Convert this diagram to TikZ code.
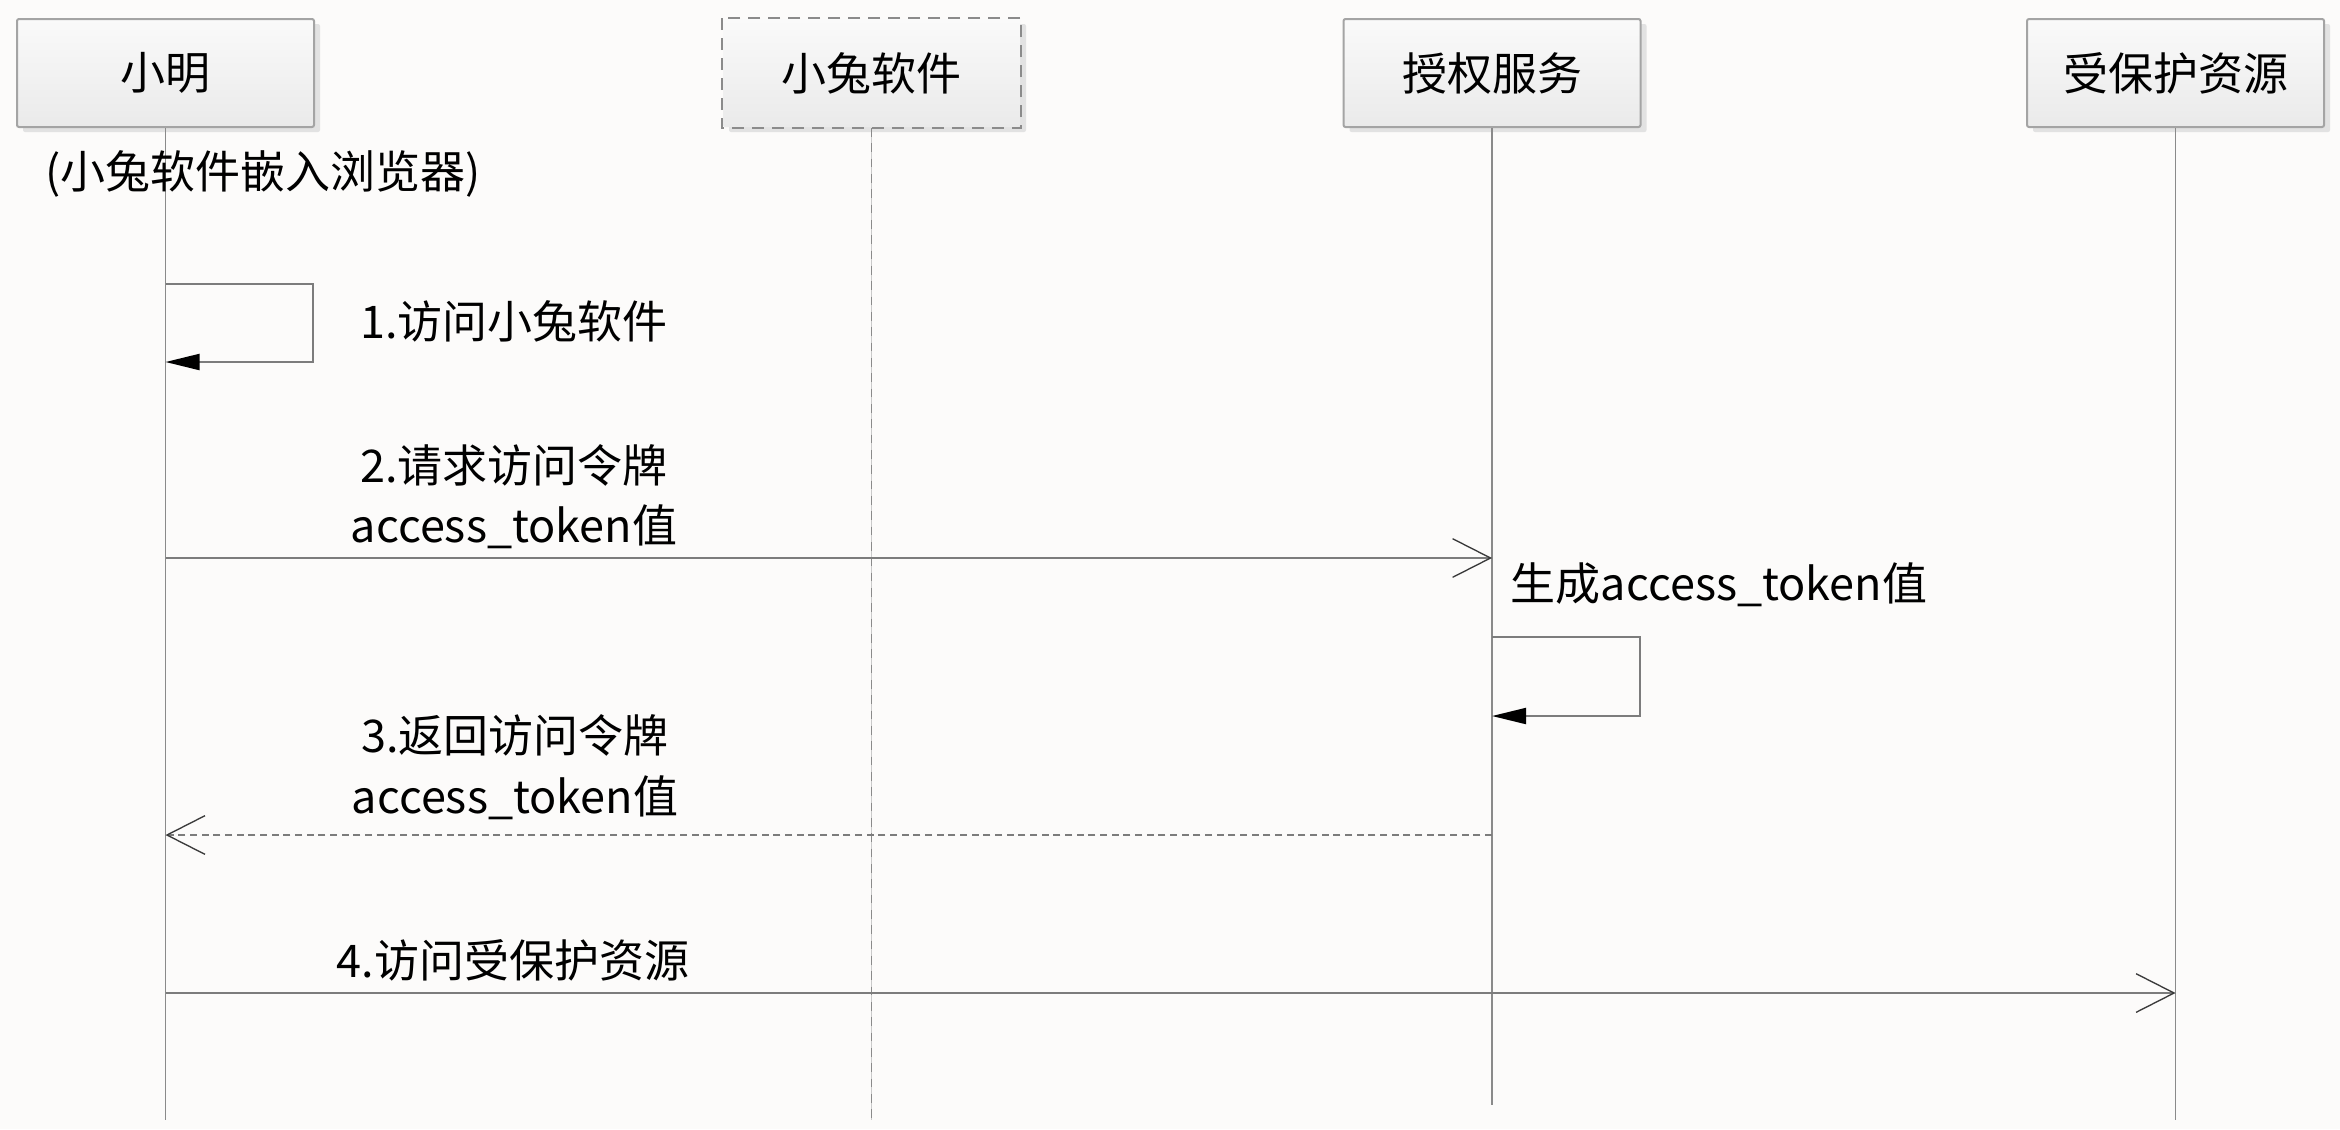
\documentclass[tikz,border=0pt]{standalone}
\usepackage{fontspec}
\setmainfont{Noto Sans CJK SC}
\usetikzlibrary{arrows.meta,shadows}
\definecolor{bg}{HTML}{FCFBFA}
\definecolor{boxline}{HTML}{A4A4A4}
\definecolor{boxtop}{HTML}{FAFAFA}
\definecolor{boxbot}{HTML}{EAEAEA}
\definecolor{shadowc}{HTML}{E2E2E2}
\definecolor{lifec}{HTML}{8A8A8A}
\definecolor{msgc}{HTML}{7C7C7C}
\definecolor{headc}{HTML}{3A3A3A}
\begin{document}
\begin{tikzpicture}[x=0.3pt,y=-0.3pt,
  actor/.style={draw=boxline, line width=0.6pt, rounded corners=0.6pt,
    top color=boxtop, bottom color=boxbot,
    minimum width=89.1pt, minimum height=32.4pt, inner sep=0pt,
    font=\fontsize{13.5pt}{16pt}\selectfont,
    drop shadow={shadow xshift=1.8pt, shadow yshift=-1.5pt, fill=shadowc, opacity=1}},
  label/.style={inner sep=0pt, font=\fontsize{13.5pt}{16pt}\selectfont},
  life/.style={draw=lifec, line width=0.55pt},
  msg/.style={draw=msgc, line width=0.6pt},
  open/.style={-{Straight Barb[length=11.4pt,width=11.6pt,line width=0.4pt,color=headc]}},
  self/.style={-{Triangle[length=10.2pt,width=4.8pt,color=black]}}
]
\useasboundingbox[fill=bg] (0,0) rectangle (2340,1129);

% actors
\node[actor] (xm) at (165.5,73) {小明};
\node[actor, draw=none] (xt) at (871.5,73) {小兔软件};
\draw[draw=boxline!85!black, line width=0.75pt, dash pattern=on 3.6pt off 2.4pt]
  (xt.north west) rectangle (xt.south east);
\node[actor] (sq) at (1492,73) {授权服务};
\node[actor] (zy) at (2175.5,73) {受保护资源};

% lifeline ends
\coordinate (xmE) at (165.5,1120);
\coordinate (xtE) at (871.5,1120);
\coordinate (sqE) at (1492,1105);
\coordinate (zyE) at (2175.5,1120);

\draw[life] (xm.south) -- (xmE);
\draw[draw=lifec!45, line width=0.55pt] (xt.south) -- (xtE);
\draw[life, dash pattern=on 2.6pt off 2pt] (xt.south) -- (xtE);
\draw[life] (sq.south) -- (sqE);
\draw[life] (zy.south) -- (zyE);

% note
\node[label] (note) at (263,174) {(小兔软件嵌入浏览器)};

% message 1: self loop on 小明
\coordinate (m1a) at (165.5,284);
\coordinate (m1b) at (313,284);
\coordinate (m1c) at (313,362);
\coordinate (m1d) at (165.5,362);
\draw[msg, self] (m1a) -- (m1b) -- (m1c) -- (m1d);
\node[label] (t1) at (514,321) {1.访问小兔软件};

% message 2
\coordinate (m2a) at (165.5,558);
\coordinate (m2b) at (1492,558);
\draw[msg, open] (m2a) -- (m2b);
\node[label] (t2a) at (514,465) {2.请求访问令牌};
\node[label] (t2b) at (514,527) {access\_token值};

% self loop on 授权服务
\node[label] (tg) at (1719,585) {生成access\_token值};
\coordinate (gA) at (1492,637);
\coordinate (gB) at (1640,637);
\coordinate (gC) at (1640,716);
\coordinate (gD) at (1492,716);
\draw[msg, self] (gA) -- (gB) -- (gC) -- (gD);

% message 3 (return)
\coordinate (m3a) at (1492,835);
\coordinate (m3b) at (165.5,835);
\draw[msg, open, dash pattern=on 2.1pt off 1.4pt] (m3a) -- (m3b);
\node[label] (t3a) at (515,735) {3.返回访问令牌};
\node[label] (t3b) at (515,798) {access\_token值};

% message 4
\coordinate (m4a) at (165.5,993);
\coordinate (m4b) at (2175.5,993);
\draw[msg, open] (m4a) -- (m4b);
\node[label] (t4) at (513,960) {4.访问受保护资源};
\end{tikzpicture}
\end{document}
